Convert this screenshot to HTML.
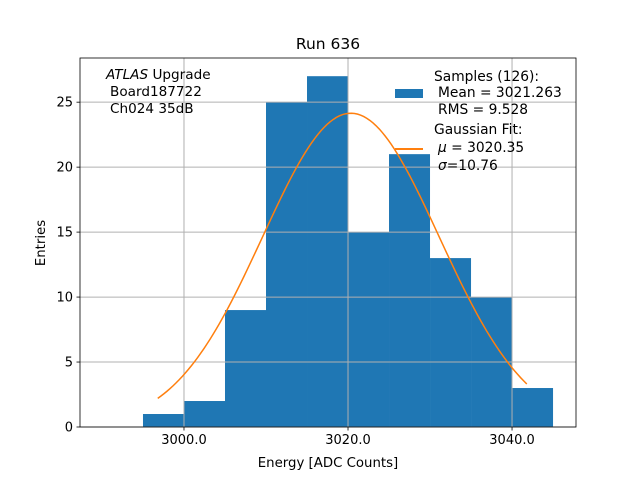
<!DOCTYPE html>
<html><head><meta charset="utf-8"><style>
body{margin:0;background:#fff}
svg text{font-family:"DejaVu Sans","Liberation Sans",sans-serif;fill:#000;white-space:pre}
</style></head><body>
<svg id="c" width="640" height="480" xmlns="http://www.w3.org/2000/svg">
<rect width="640" height="480" fill="#fff"/>
<g id="bars"></g><g id="grid"></g><g id="fit"></g><g id="axes"></g>
<text x="328" y="49" text-anchor="middle" font-size="15.5">Run 636</text>
<text x="328" y="467" text-anchor="middle" font-size="13.3">Energy [ADC Counts]</text>
<text transform="translate(45,243) rotate(-90)" text-anchor="middle" font-size="13.3">Entries</text>
<g font-size="13.6">
<text x="106" y="79"><tspan font-style="italic">ATLAS</tspan> Upgrade</text>
<text x="110" y="96">Board187722</text>
<text x="110" y="113">Ch024 35dB</text>
</g>
<g font-size="13.8">
<rect x="395" y="89" width="28" height="9" fill="#1f77b4"/>
<text x="434" y="81">Samples (126):</text>
<text x="438" y="97">Mean = 3021.263</text>
<text x="438" y="114">RMS = 9.528</text>
<line x1="395" y1="149" x2="423" y2="149" stroke="#ff7f0e" stroke-width="2"/>
<text x="434" y="134">Gaussian Fit:</text>
<text x="438" y="152"><tspan font-style="italic">μ</tspan> = 3020.35</text>
<text x="438" y="170"><tspan font-style="italic">σ</tspan>=10.76</text>
</g>
</svg>
<script>
const binEdges=[2995,3000,3005,3010,3015,3020,3025,3030,3035,3040,3045];
const counts=[1,2,9,25,27,15,21,13,10,3];
const xTicks=[3000,3020,3040];
const xTickLabels=["3000.0","3020.0","3040.0"];
const yTicks=[0,5,10,15,20,25];
const fitMu=[3020.35];
const fitSigma=[10.76];
const fitAmp=[24.15];
const fitRange=[2996.8,3041.8];

const L=80,R=576,T=58,B=427;
const xMin=2987.32,xMax=3047.8,yMin=0,yMax=28.4;
const sx=v=>L+(v-xMin)/(xMax-xMin)*(R-L);
const sy=v=>B-(v-yMin)/(yMax-yMin)*(B-T);
const NS="http://www.w3.org/2000/svg";
function mk(p,tag,at){const e=document.createElementNS(NS,tag);for(const k in at)e.setAttribute(k,at[k]);p.appendChild(e);return e;}
const grid=document.getElementById('grid'),bars=document.getElementById('bars'),fit=document.getElementById('fit'),axes=document.getElementById('axes');
xTicks.forEach((t,i)=>{const x=sx(t);
 const g=mk(grid,'line',{x1:x,x2:x,y1:T,y2:B,stroke:'#b0b0b0','stroke-width':1});
 
 
 const tk=mk(axes,'line',{x1:x,x2:x,y1:B,y2:B+3.5,stroke:'#000','stroke-width':0.8});
 
 
 const tx=mk(axes,'text',{x:x,y:B+17,'text-anchor':'middle','font-size':13});
 tx.textContent=xTickLabels[i];
 
 
});
yTicks.forEach(t=>{const y=sy(t);
 const g=mk(grid,'line',{x1:L,x2:R,y1:y,y2:y,stroke:'#b0b0b0','stroke-width':1});
 
 
 const tk=mk(axes,'line',{x1:L-3.5,x2:L,y1:y,y2:y,stroke:'#000','stroke-width':0.8});
 
 
 const tx=mk(axes,'text',{x:L-7,y:y+4.5,'text-anchor':'end','font-size':13});
 tx.textContent=t;
 
 
});
counts.forEach((c,i)=>{const x0=sx(binEdges[i]),x1=sx(binEdges[i+1]);
 const r=mk(bars,'rect',{x:x0,y:sy(c),width:x1-x0,height:sy(0)-sy(c),fill:'#1f77b4'});
 
 
});
let d='';const n=120;
for(let i=0;i<=n;i++){const v=fitRange[0]+(fitRange[1]-fitRange[0])*i/n;
 const yv=fitAmp[0]*Math.exp(-0.5*Math.pow((v-fitMu[0])/fitSigma[0],2));
 d+=(i?'L':'M')+sx(v).toFixed(2)+','+sy(yv).toFixed(2);}
const p=mk(fit,'path',{d:d,fill:'none',stroke:'#ff7f0e','stroke-width':1.5});


const fr=mk(axes,'rect',{x:L,y:T,width:R-L,height:B-T,fill:'none',stroke:'#000','stroke-width':0.8});


</script>
</body></html>
